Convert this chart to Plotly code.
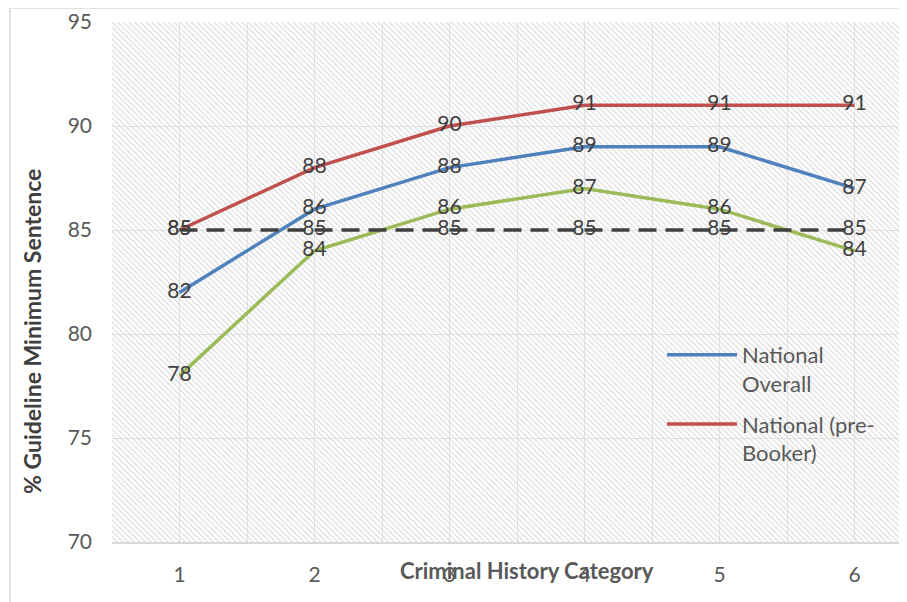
import plotly.graph_objects as go

categories = [1, 2, 3, 4, 5, 6]
national_overall = [82, 86, 88, 89, 89, 87]
national_pre_booker = [85, 88, 90, 91, 91, 91]
third_series = [78, 84, 86, 87, 86, 84]
benchmark = [85, 85, 85, 85, 85, 85]
y_ticks = [70, 75, 80, 85, 90, 95]

W, H = 907, 602
OFF = 8  # page offset of the figure in the browser
L, R, T = 112 - OFF, 0, 22 - OFF
ph = 520
B = H - T - ph
pw = W - L - R
x_lo = 0.5
x_hi = x_lo + pw / 135.0
y_lo, y_hi = 70, 95

def px_x(p):
    return (p - OFF - L) / pw

def px_y(p):
    return 1 - (p - OFF - T) / ph

fig = go.Figure()

# hatched plot background
fig.add_trace(go.Scatter(
    x=[x_lo, x_hi, x_hi, x_lo, x_lo], y=[y_lo, y_lo, y_hi, y_hi, y_lo],
    mode="lines", fill="toself", line=dict(width=0),
    fillcolor="rgba(0,0,0,0)",
    fillpattern=dict(shape="\\", fgcolor="#d4d4d4", bgcolor="rgba(0,0,0,0)",
                     size=4, solidity=0.25, fillmode="replace"),
    hoverinfo="skip", showlegend=False))

label_font = dict(family="Lato", size=21, color="#404040")

series = [
    ("National<br>Overall", national_overall, "#4F81BD", "solid", True),
    ("National (pre-<br>Booker)", national_pre_booker, "#C0504D", "solid", True),
    ("Series 3", third_series, "#9BBB59", "solid", False),
    ("Benchmark", benchmark, "#404040", "18px,9px", False),
]
for i, (name, vals, col, dash, show) in enumerate(series):
    fig.add_trace(go.Scatter(
        x=categories, y=vals, name=name, mode="lines+text",
        legendgroup="g%d" % i,
        line=dict(color=col, width=3.5, dash=dash),
        text=[str(v) for v in vals], textposition="middle center",
        textfont=label_font, showlegend=show, cliponaxis=False))

fig.update_layout(
    width=W, height=H,
    margin=dict(l=L, r=R, t=T, b=B),
    paper_bgcolor="white", plot_bgcolor="white",
    font=dict(family="Lato", size=21, color="#595959"),
    xaxis=dict(range=[x_lo, x_hi], tickvals=categories,
               ticktext=[str(c) for c in categories],
               showgrid=True, gridcolor="#e3e3e3", gridwidth=1.3,
               minor=dict(tickvals=[c - 0.5 for c in categories] + [6.5],
                          showgrid=True, gridcolor="#e3e3e3", gridwidth=1.3),
               showline=True, linecolor="#d9d9d9", linewidth=1.5,
               zeroline=False, ticks="", ticklabelstandoff=13,
               tickfont=dict(family="Lato", size=21, color="#595959")),
    yaxis=dict(range=[y_lo, y_hi], tickvals=y_ticks,
               showgrid=True, gridcolor="#e3e3e3", gridwidth=1.3,
               zeroline=False, showline=False, ticks="", ticklabelstandoff=19,
               tickfont=dict(family="Lato", size=21, color="#595959")),
    legend=dict(x=px_x(662), y=px_y(334), xanchor="left", yanchor="top",
                bgcolor="rgba(0,0,0,0)", valign="top", itemwidth=70,
                font=dict(family="Lato", size=22, color="#595959"),
                tracegroupgap=9),
    shapes=[dict(type="rect", xref="paper", yref="paper",
                 x0=px_x(10), x1=px_x(W + 30), y0=px_y(H + 30), y1=px_y(8),
                 line=dict(color="#d9d9d9", width=1.5), layer="below")],
    annotations=[
        dict(text="<b>Criminal History Category</b>", xref="paper", yref="paper",
             x=px_x(527), y=px_y(570), showarrow=False, xanchor="center",
             yanchor="middle", font=dict(family="Lato", size=22, color="#595959")),
        dict(text="<b>% Guideline Minimum Sentence</b>", xref="paper", yref="paper",
             x=px_x(32), y=px_y(332), showarrow=False, textangle=-90,
             xanchor="center", yanchor="middle",
             font=dict(family="Lato", size=23, color="#404040")),
    ],
)

fig.write_html("out.html")
